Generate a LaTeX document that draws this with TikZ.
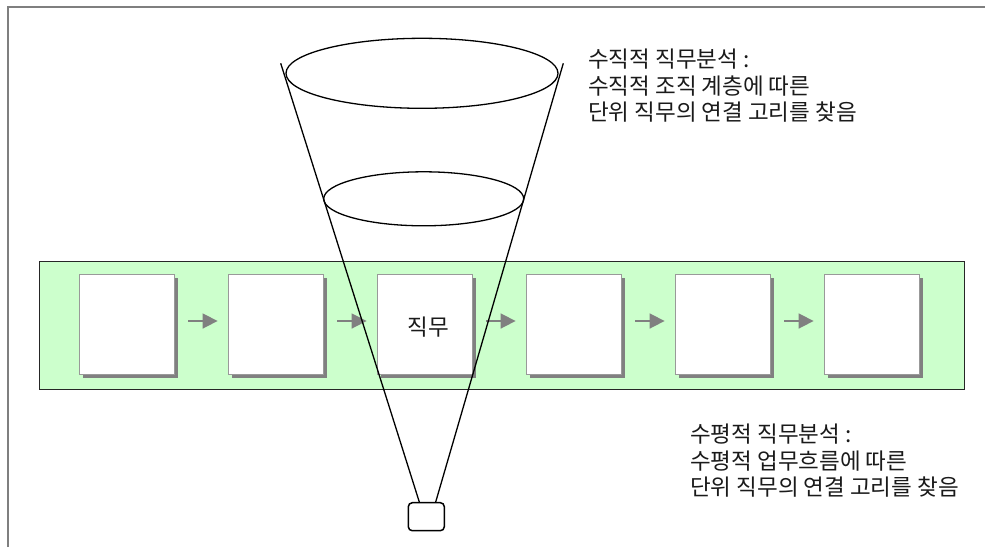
\documentclass[tikz,border=0pt]{standalone}
\usepackage{fontspec}
\newfontfamily\kr{Noto Sans CJK KR}
\usetikzlibrary{shapes.geometric,arrows.meta,shadows}
\definecolor{framegray}{HTML}{7F7F7F}
\definecolor{bandgreen}{HTML}{CCFFCC}
\definecolor{shadowgray}{HTML}{808080}
\definecolor{boxline}{HTML}{999999}
\definecolor{txt}{HTML}{1A1A1A}
\begin{document}
\begin{tikzpicture}[x=1pt,y=-1pt,
  frame/.style={draw=framegray,line width=2pt},
  band/.style={draw=black!85,fill=bandgreen,line width=0.8pt,inner sep=0pt},
  jobbox/.style={draw=boxline,fill=white,line width=0.8pt,minimum width=95pt,minimum height=100pt,inner sep=0pt,
    general shadow={shadow xshift=4pt,shadow yshift=-4pt,fill=shadowgray,opacity=1}},
  flow/.style={draw=shadowgray,line width=1.6pt,-{Triangle[length=15pt,width=15pt]},shorten <=14pt,shorten >=10pt},
  rim/.style={draw=black,line width=1.3pt,ellipse,inner sep=0pt},
  ray/.style={draw=black,line width=1.3pt},
  cam/.style={draw=black,line width=1.5pt,rounded corners=4pt,minimum width=36pt,minimum height=28pt,inner sep=0pt},
  note/.style={font=\kr\fontsize{22.5}{26.5}\selectfont,text=txt,align=left,inner sep=0pt,anchor=base west}
]
\useasboundingbox (0,0) rectangle (985,547);
\fill[white] (0,0) rectangle (985,547);
% outer frame (only top and left visible)
\draw[frame] (7.5,547) -- (7.5,7) -- (985,7);
% green band
\node[band,minimum width=925pt,minimum height=128pt] (band) at (501.5,325) {};
% job boxes
\node[jobbox] (b1) at (126.5,324) {};
\node[jobbox] (b2) at (275.5,324) {};
\node[jobbox] (b3) at (424.5,324) {};
\node[jobbox] (b4) at (573.5,324) {};
\node[jobbox] (b5) at (722.5,324) {};
\node[jobbox] (b6) at (871.5,324) {};
\node[font=\kr\fontsize{22.5}{26.5}\selectfont,text=txt,inner sep=0pt,anchor=base] (jobtxt) at (428,335.5) {직무};
% arrows
\draw[flow] ([yshift=3pt]b1.east) -- ([yshift=3pt]b2.west);
\draw[flow] ([yshift=3pt]b2.east) -- ([yshift=3pt]b3.west);
\draw[flow] ([yshift=3pt]b3.east) -- ([yshift=3pt]b4.west);
\draw[flow] ([yshift=3pt]b4.east) -- ([yshift=3pt]b5.west);
\draw[flow] ([yshift=3pt]b5.east) -- ([yshift=3pt]b6.west);
% cone
\node[rim,minimum width=272pt,minimum height=70pt] (e1) at (422,73.3) {};
\node[rim,minimum width=200pt,minimum height=54pt] (e2) at (423.7,198.8) {};
\node[cam] (cam) at (426.3,516.7) {};
\coordinate (tl) at (280.7,63.3);
\coordinate (tr) at (563.3,63.3);
\coordinate (bl) at ([xshift=-7pt]cam.north);
\coordinate (br) at ([xshift=9.4pt]cam.north);
\draw[ray] (tl) -- (bl);
\draw[ray] (tr) -- (br);
% notes (base anchor = baseline of the last line)
\node[note] (vnote) at (588,120.5) {수직적 직무분석 :\\수직적 조직 계층에 따른\\단위 직무의 연결 고리를 찾음};
\node[note] (hnote) at (690,495.5) {수평적 직무분석 :\\수평적 업무흐름에 따른\\단위 직무의 연결 고리를 찾음};
\end{tikzpicture}
\end{document}
